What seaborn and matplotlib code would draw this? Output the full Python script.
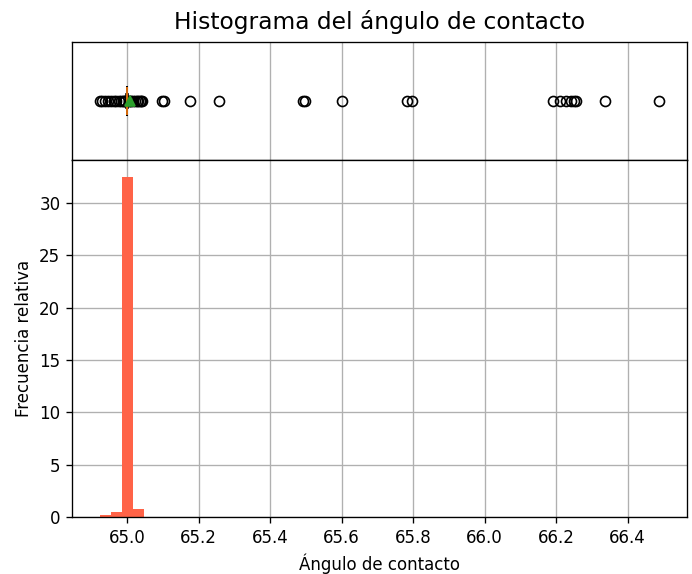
import matplotlib
matplotlib.use("Agg")
import matplotlib.pyplot as plt
import seaborn as sns

# Summary of the contact-angle sample (degrees)
box_q1 = 64.9985
box_q3 = 65.0010
box_median = 65.0000
box_whisker_low = 64.9975
box_whisker_high = 65.0022
box_mean = 65.0090
outliers = [
    64.924, 64.930, 64.938, 64.947, 64.956, 64.963, 64.970, 64.976, 64.982,
    64.988, 64.992, 64.995, 65.004, 65.007, 65.012, 65.017, 65.022, 65.027,
    65.031, 65.035, 65.039, 65.041, 65.098, 65.104, 65.175, 65.256, 65.491,
    65.497, 65.601, 65.782, 65.796, 66.192, 66.210, 66.229, 66.243, 66.250,
    66.257, 66.336, 66.488,
]

# Relative-frequency histogram
bin_edges = [64.924, 64.955, 64.985, 65.016, 65.047]
bin_centers = [64.9395, 64.970, 65.0005, 65.0315]
rel_freq = [0.15, 0.45, 32.5, 0.78]

title = "Histograma del ángulo de contacto"
xlabel = "Ángulo de contacto"
ylabel = "Frecuencia relativa"

plt.rcParams["font.family"] = ["DejaVu Sans"]
plt.rcParams["axes.grid"] = False

W, H, DPI = 692, 574, 120
fig = plt.figure(figsize=(W / DPI, H / DPI), dpi=DPI)
ax_box = fig.add_axes([72 / W, 1 - 160 / H, 615 / W, 118 / H])
ax_hist = fig.add_axes([72 / W, 1 - 517 / H, 615 / W, 357 / H], sharex=ax_box)

stats = [{
    "med": box_median, "q1": box_q1, "q3": box_q3,
    "whislo": box_whisker_low, "whishi": box_whisker_high,
    "mean": box_mean, "fliers": outliers,
}]
ax_box.bxp(stats, positions=[1], widths=0.24, orientation="horizontal",
           showmeans=True, manage_ticks=False)
ax_box.set_ylim(0.5, 1.5)
ax_box.set_yticks([])
ax_box.tick_params(bottom=False, labelbottom=False)
ax_box.grid(axis="x", color="#b0b0b0", linewidth=0.8)
ax_box.set_axisbelow(True)
ax_box.set_title(title, fontsize=14, pad=8)

sns.histplot(x=bin_centers, weights=rel_freq, bins=bin_edges, stat="count",
             color="tomato", alpha=1, edgecolor="none", linewidth=0, ax=ax_hist)
ax_hist.grid(True, color="#b0b0b0", linewidth=0.8)
ax_hist.set_axisbelow(True)
ax_hist.set_xlabel(xlabel)
ax_hist.set_ylabel(ylabel)
ax_hist.set_xticks([65.0, 65.2, 65.4, 65.6, 65.8, 66.0, 66.2, 66.4])

lo = min(outliers)
hi = max(outliers)
pad = (hi - lo) * 0.05
ax_hist.set_xlim(lo - pad, hi + pad)
ax_hist.set_ylim(0, max(rel_freq) * 1.05)

fig.savefig("out.png", dpi=DPI)
